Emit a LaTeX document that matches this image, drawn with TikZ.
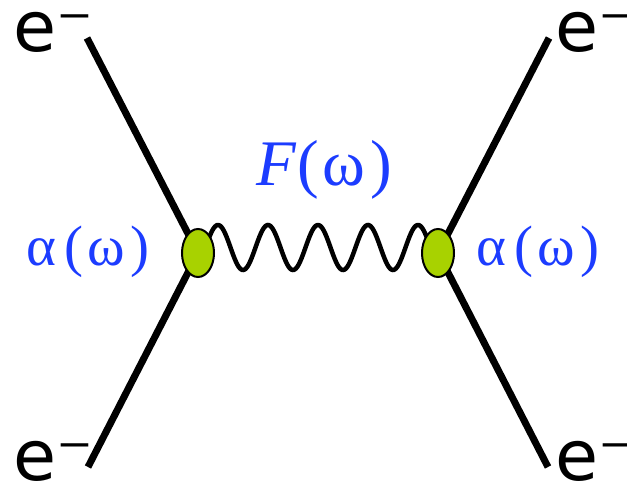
\documentclass[tikz,border=0pt]{standalone}
\usepackage{fontspec}
\setmainfont{Liberation Serif}
\newfontfamily\lserif{Liberation Serif}
\newfontfamily\esans{DejaVu Sans}
\usetikzlibrary{shapes.geometric}
\definecolor{lblue}{RGB}{28,60,255}
\definecolor{vgreen}{RGB}{168,210,0}
\tikzset{
  fermion/.style={line width=7pt, black},
  photon/.style={line width=4.5pt, black},
  vertex/.style={ellipse, draw=black, line width=2pt, fill=vgreen, minimum width=32pt, minimum height=48pt, inner sep=0pt},
  elbl/.style={inner sep=0pt, anchor=base west, text depth=0pt, font=\esans\fontsize{70}{70}\selectfont},
  albl/.style={inner sep=0pt, anchor=base west, text=lblue, font=\lserif\fontsize{57}{57}\selectfont},
  flbl/.style={inner sep=0pt, anchor=base west, text=lblue, font=\lserif\fontsize{65}{65}\selectfont}
}
\begin{document}
\begin{tikzpicture}[x=1pt,y=-1pt]
\useasboundingbox (0,0) rectangle (627,486);
\coordinate (tl) at (87,38);
\coordinate (bl) at (88,467);
\coordinate (tr) at (549,38);
\coordinate (br) at (548,467);
\coordinate (vlc) at (198,253);
\coordinate (vrc) at (438,253);
\draw[fermion] (tl) -- (vlc) -- (bl);
\draw[fermion] (tr) -- (vrc) -- (br);
\draw[photon] plot[domain=205:431, samples=220, smooth] (\x, {247.5-22.5*cos(7.2*(\x-218))});
\node[vertex] (vl) at (vlc) {};
\node[vertex] (vr) at (vrc) {};
\node[elbl] (e1) at (13,52) {e⁻};
\node[elbl] (e2) at (555,52) {e⁻};
\node[elbl] (e3) at (13,480) {e⁻};
\node[elbl] (e4) at (555,480) {e⁻};
\node[flbl] (F) at (256,186) {\textit{F}\kern1pt(\kern3ptω\kern6pt)};
\node[albl] (al) at (26,266) {α\kern8pt(\kern4ptω\kern6pt)};
\node[albl] (ar) at (476,266) {α\kern8pt(\kern4ptω\kern6pt)};
\end{tikzpicture}
\end{document}
